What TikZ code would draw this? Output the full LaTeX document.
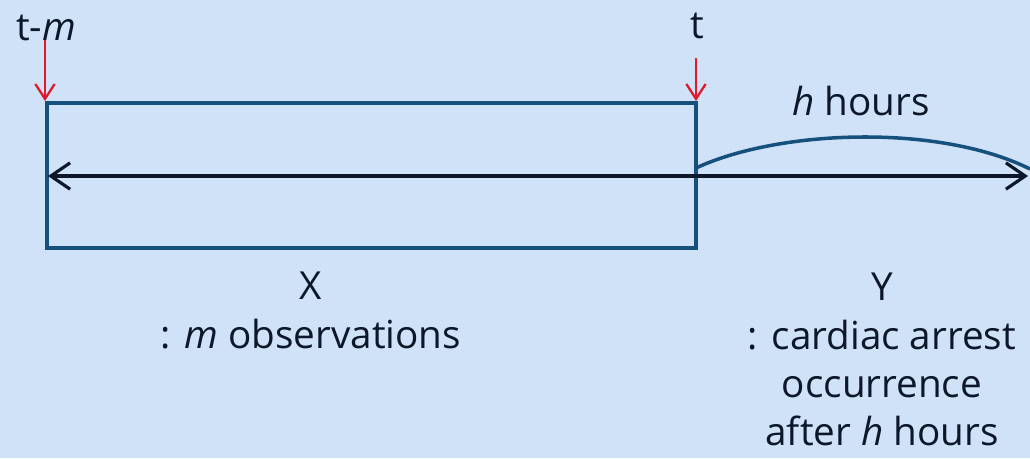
\documentclass[tikz,border=0pt]{standalone}
\usepackage{fontspec}
\setmainfont{Open Sans}
\usetikzlibrary{arrows.meta}
\definecolor{bgblue}{RGB}{208,226,247}
\definecolor{boxblue}{RGB}{22,80,124}
\definecolor{inkblue}{RGB}{12,24,42}
\definecolor{markred}{RGB}{222,26,44}
\tikzset{
	lbl/.style={text=inkblue, font=\fontsize{22}{27.4}\selectfont, inner sep=0pt, align=center},
	timeline/.style={line width=1.8pt, color=inkblue},
	marker/.style={line width=1.3pt, color=markred, -{Straight Barb[length=8.5pt, width=11pt]}},
}

\begin{document}
\begin{tikzpicture}[x=0.02cm, y=-0.02cm]
		%%%%% START %%%%%
		
		\fill[bgblue] (0, 0) rectangle (1030, 458);
		\useasboundingbox (0, 0) rectangle (1030, 458);
		
		\coordinate (start) at (47, 103);
		\coordinate (now) at (696, 103);
		\coordinate (low) at (696, 248);
		\coordinate (left) at (48, 176);
		\coordinate (mid) at (696, 176);
		\coordinate (right) at (1028, 176);
		\coordinate (hump) at (696, 168);
		\coordinate (hend) at (1030, 169);
		\coordinate (tmtop) at (45, 40);
		\coordinate (tmtip) at (45, 101);
		\coordinate (ttop) at (696, 58);
		\coordinate (ttip) at (696, 101);
		
		\draw[line width=2pt, color=boxblue] (start) rectangle (low);
		
		\draw[timeline, -{Straight Barb[length=11pt, width=15pt]}] (mid) -- (left);
		\draw[timeline, -{Straight Barb[length=11pt, width=15pt]}] (mid) -- (right);
		\draw[line width=2pt, color=boxblue] (hump) .. controls (780, 129) and (940, 124) .. (hend);
		
		\node[lbl] (tmlbl) at (46, 28) {t-\textit{m}};
		\node[lbl] (tlbl) at (697, 26) {t};
		\draw[marker] (tmtop) -- (tmtip);
		\draw[marker] (ttop) -- (ttip);
		
		\node[lbl] (hlbl) at (861, 101) {\textit{h} hours};
		
		\node[lbl, anchor=north] (xlbl) at (311, 272) {X\\: \textit{m} observations};
		\node[lbl, anchor=north] (ylbl) at (882, 273) {Y\\: cardiac arrest\\occurrence\\after \textit{h} hours};
		
		%%%%% END %%%%%
	\end{tikzpicture}
\end{document}
